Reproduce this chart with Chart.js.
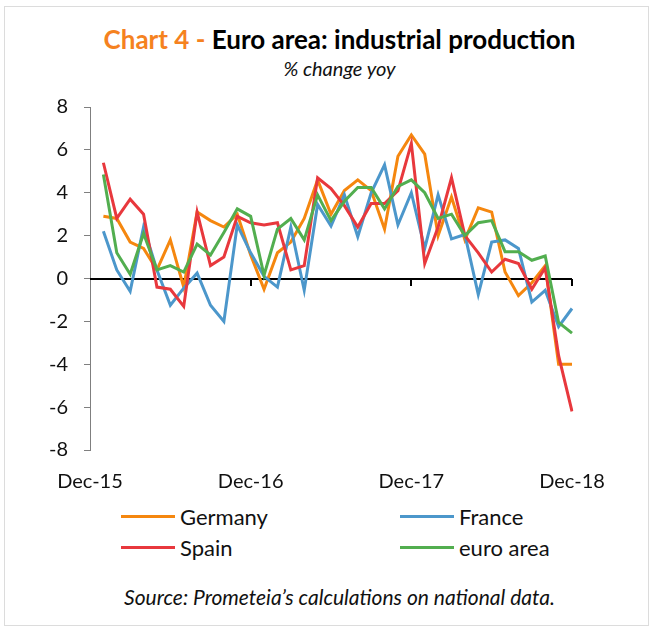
<!DOCTYPE html>
<html>
<head>
<meta charset="utf-8">
<script src="https://cdn.jsdelivr.net/npm/chart.js@4.4.1/dist/chart.umd.min.js"></script>
<style>
  body { margin: 0; background: #fff; font-family: "Lato", sans-serif; }
  #page { position: relative; width: 656px; height: 630px; overflow: hidden; }
  #frame { position: absolute; left: 4px; top: 6px; width: 643px; height: 618px; border: 1px solid #dcdcdc; }
  #title { position: absolute; left: 0; width: 679px; top: 23px; text-align: center;
           font-weight: 700; font-size: 26px; color: #000; white-space: nowrap; }
  #title span { color: #F5821F; }
  #subtitle { position: absolute; left: 0; width: 679px; top: 56px; text-align: center;
              font-style: italic; font-size: 20px; color: #111; }
  #chart { position: absolute; left: 0; top: 90px; }
  .lg { position: absolute; height: 24px; display: flex; align-items: center; font-size: 22px; color: #111; }
  .lg i { display: inline-block; width: 54px; height: 3px; margin-right: 5px; }
  #source { position: absolute; left: 0; width: 679px; top: 584px; text-align: center;
            font-style: italic; font-size: 21px; color: #111; }
</style>
</head>
<body>
<div id="page">
  <div id="frame"></div>
  <div id="title"><span>Chart 4 -</span> Euro area: industrial production</div>
  <div id="subtitle">% change yoy</div>
  <canvas id="chart" width="656" height="410"></canvas>
  <div id="legend"></div>
  <div id="source">Source: Prometeia’s calculations on national data.</div>
</div>
<script>
// dati mensili, Dec-15 vuoto (serie da Jan-16)
const months = [
  'Dec-15', 'Jan-16', 'Feb-16', 'Mar-16', 'Apr-16', 'May-16', 'Jun-16', 'Jul-16', 'Aug-16', 'Sep-16', 'Oct-16', 'Nov-16',
  'Dec-16', 'Jan-17', 'Feb-17', 'Mar-17', 'Apr-17', 'May-17', 'Jun-17', 'Jul-17', 'Aug-17', 'Sep-17', 'Oct-17', 'Nov-17',
  'Dec-17', 'Jan-18', 'Feb-18', 'Mar-18', 'Apr-18', 'May-18', 'Jun-18', 'Jul-18', 'Aug-18', 'Sep-18', 'Oct-18', 'Nov-18',
  'Dec-18'
];
const seriesNames = ['Germany', 'France', 'Spain', 'euro area'];
const germany = [null, 2.9, 2.8, 1.7, 1.4, 0.4, 1.8, -0.4, 3.1, 2.7, 2.4, 3.0, 1.1, -0.5, 1.2, 1.7, 2.8, 4.6, 3.0,
  4.1, 4.6, 4.1, 2.3, 5.7, 6.7, 5.8, 2.0, 3.8, 1.8, 3.3, 3.1, 0.3, -0.8, -0.2, 0.6, -4.0, -4.0];
const france = [null, 2.2, 0.4, -0.6, 2.4, 0.4, -1.25, -0.45, 0.25, -1.25, -2.0, 2.5, 1.2, 0.1, -0.4, 2.4, -0.55, 3.45, 2.45,
  3.9, 1.95, 4.0, 5.3, 2.5, 4.0, 1.4, 3.9, 1.85, 2.05, -0.75, 1.7, 1.8, 1.4, -1.1, -0.55, -2.25, -1.4];
const spain = [null, 5.4, 2.8, 3.7, 3.0, -0.4, -0.5, -1.3, 3.1, 0.6, 1.0, 2.9, 2.6, 2.5, 2.6, 0.4, 0.6, 4.7, 4.2,
  3.4, 2.4, 3.5, 3.5, 4.1, 6.3, 0.7, 2.4, 4.7, 2.0, 1.2, 0.3, 0.9, 0.7, -0.5, 0.5, -3.6, -6.2];
const euroArea = [null, 4.85, 1.2, 0.2, 2.1, 0.4, 0.6, 0.3, 1.6, 1.1, 2.15, 3.25, 2.9, 0.15, 2.3, 2.8, 1.8, 3.9, 2.7,
  3.6, 4.25, 4.25, 3.25, 4.3, 4.6, 4.0, 2.8, 3.0, 2.0, 2.6, 2.7, 1.25, 1.25, 0.85, 1.05, -2.05, -2.55];
const yTicks = [-8, -6, -4, -2, 0, 2, 4, 6, 8];

const COLOR = {
  germany: '#F5870F',
  france:  '#4C97CB',
  spain:   '#E8383D',
  euro:    '#52AE4F',
  axis:    '#7f7f7f',
  zero:    '#000000',
  text:    '#111111',
};

Chart.defaults.font.family = '"Lato", sans-serif';
Chart.defaults.color = COLOR.text;

function lineSet(label, data, color, order) {
  return {
    label, data, order,
    borderColor: color,
    backgroundColor: color,
    borderWidth: 3,
    pointRadius: 0,
    tension: 0,
    fill: false,
  };
}

// linea dello zero con tacche annuali
const zeroAxis = {
  id: 'zeroAxis',
  beforeDatasetsDraw(chart) {
    const { ctx, chartArea, scales: { x, y } } = chart;
    const y0 = Math.round(y.getPixelForValue(0));
    ctx.save();
    ctx.strokeStyle = COLOR.zero;
    ctx.lineWidth = 2;
    ctx.beginPath();
    ctx.moveTo(chartArea.left, y0);
    ctx.lineTo(chartArea.right, y0);
    months.forEach((m, i) => {
      if (i > 0 && m.startsWith('Dec')) {
        const px = Math.round(x.getPixelForValue(i));
        ctx.moveTo(px, y0);
        ctx.lineTo(px, y0 + 7);
      }
    });
    ctx.stroke();
    ctx.restore();
  },
};

const chart = new Chart(document.getElementById('chart'), {
  type: 'line',
  data: {
    labels: months,
    datasets: [
      lineSet(seriesNames[0], germany, COLOR.germany, 4),
      lineSet(seriesNames[1], france, COLOR.france, 3),
      lineSet(seriesNames[2], spain, COLOR.spain, 2),
      lineSet(seriesNames[3], euroArea, COLOR.euro, 1),
    ],
  },
  options: {
    responsive: false,
    devicePixelRatio: 1,
    animation: false,
    layout: { padding: { left: 0, right: 84, top: 17, bottom: 0 } },
    plugins: { legend: { display: false }, tooltip: { enabled: false } },
    scales: {
      x: {
        type: 'category',
        offset: false,
        grid: { display: false, drawTicks: false },
        border: { display: false },
        afterFit: s => { s.height = 50; s.paddingLeft = 0; s.paddingRight = 0; },
        ticks: {
          autoSkip: false,
          maxRotation: 0,
          padding: 20,
          font: { size: 20 },
          color: COLOR.text,
          callback: (v, i) => (months[i].startsWith('Dec') ? months[i] : null),
        },
      },
      y: {
        min: yTicks[0],
        max: yTicks[yTicks.length - 1],
        afterFit: s => { s.width = 90; s.paddingTop = 0; s.paddingBottom = 0; },
        afterBuildTicks: s => { s.ticks = yTicks.map(v => ({ value: v })); },
        grid: { drawOnChartArea: false, drawTicks: true, tickLength: 6, color: COLOR.axis },
        border: { display: true, color: COLOR.axis, width: 1 },
        ticks: { padding: 16, font: { size: 20 }, color: COLOR.text },
      },
    },
  },
  plugins: [zeroAxis],
});

// legenda HTML su due colonne
const legendPos = [[121, 504], [400, 504], [121, 535], [400, 535]];
const legendBox = document.getElementById('legend');
chart.data.datasets.forEach((ds, i) => {
  const el = document.createElement('div');
  el.className = 'lg';
  el.style.left = legendPos[i][0] + 'px';
  el.style.top = legendPos[i][1] + 'px';
  el.innerHTML = `<i style="background:${ds.borderColor}"></i>${ds.label}`;
  legendBox.appendChild(el);
});
</script>
</body>
</html>
